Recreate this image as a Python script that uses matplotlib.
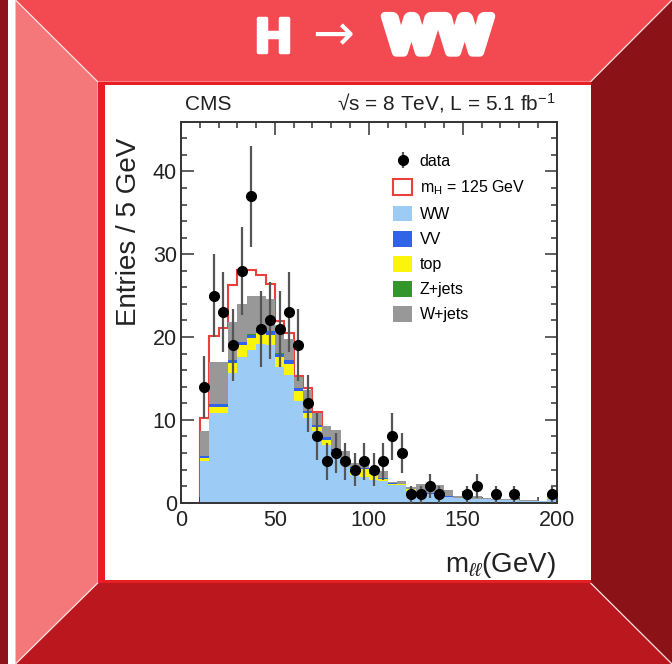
import matplotlib
matplotlib.use("Agg")
import matplotlib.pyplot as plt
import matplotlib.patheffects as pe
import numpy as np
from matplotlib.patches import Polygon, Rectangle, Patch
from matplotlib.lines import Line2D
from matplotlib.ticker import MultipleLocator

plt.rcParams['font.family'] = ['Liberation Sans', 'DejaVu Sans']
plt.rcParams['mathtext.fontset'] = 'custom'
plt.rcParams['mathtext.rm'] = 'Liberation Sans'
plt.rcParams['mathtext.it'] = 'Liberation Sans:italic'

# m_ll binning, 5 GeV bins from 10 to 200
edges = np.arange(10, 205, 5)

# observed events per bin
data = np.array([14, 25, 23, 19, 28, 37, 21, 22, 21, 23, 19, 12, 8, 5, 6, 5, 4, 5, 4, 5,
                 8, 6, 1, 1, 2, 1, 0, 0, 1, 2, 0, 1, 0, 1, 0, 0, 0, 1])

# expected backgrounds (stacked in this order)
ww = np.array([5.0, 10.8, 10.8, 15.6, 17.6, 18.4, 19.2, 19.1, 16.4, 15.4, 12.3, 10.2, 8.6, 7.0,
               5.8, 4.4, 3.4, 3.1, 2.8, 2.6, 2.1, 2.1, 1.4, 1.1, 1.0, 0.9, 0.7, 0.6, 0.5, 0.4,
               0.4, 0.3, 0.3, 0.3, 0.2, 0.2, 0.2, 0.4])
top = np.array([0.4, 0.8, 0.8, 1.3, 1.4, 1.5, 1.3, 1.2, 1.2, 1.4, 1.2, 0.6, 0.5, 0.6, 0.5, 0.6,
                0.8, 1.0, 0.7, 0.3, 0.2, 0.1, 0.2, 0.1, 0.1, 0.1, 0.0, 0.0, 0.1, 0.0, 0.0, 0.0,
                0.0, 0.0, 0.0, 0.0, 0.0, 0.3])
vv = np.array([0.2, 0.3, 0.3, 0.3, 0.4, 0.4, 0.4, 0.4, 0.4, 0.4, 0.4, 0.3, 0.3, 0.3, 0.2, 0.2,
               0.1, 0.1, 0.1, 0.1, 0.1, 0.1, 0.1, 0.1, 0.1, 0.1, 0.1, 0.0, 0.0, 0.0, 0.0, 0.0,
               0.0, 0.0, 0.0, 0.0, 0.0, 0.0])
zjets = np.array([0.0, 0.05, 0.05, 0.05, 0.05, 0.05, 0.05, 0.05, 0.05, 0.0, 0.0, 0.0, 0.0, 0.0,
                  0.0, 0.0, 0.0, 0.0, 0.0, 0.0, 0.0, 0.0, 0.0, 0.0, 0.0, 0.0, 0.0, 0.0, 0.0, 0.0,
                  0.0, 0.0, 0.0, 0.0, 0.0, 0.0, 0.0, 0.0])
wjets = np.array([3.1, 5.0, 5.0, 4.6, 4.5, 4.6, 4.0, 3.8, 3.4, 2.6, 1.3, 2.5, 1.4, 1.3, 2.3, 1.1,
                  0.5, 0.8, 0.6, 0.8, 0.1, 0.3, 0.2, 0.9, 1.1, 1.0, 0.7, 0.2, 0.1, 0.4, 0.2, 0.2,
                  0.1, 0.1, 0.1, 0.1, 0.0, 0.1])
# mH = 125 GeV signal on top of the background
signal = np.array([1.5, 3.2, 4.1, 4.4, 4.2, 3.1, 2.6, 1.8, 0.5, 0.7, 0.1, 0.3, 0.1, 0.0, 0.0,
                   0.0, 0.0, 0.0, 0.0, 0.0, 0.0, 0.0, 0.0, 0.0, 0.0, 0.0, 0.0, 0.0, 0.0, 0.0,
                   0.0, 0.0, 0.0, 0.0, 0.0, 0.0, 0.0, 0.0])

layers = [(ww, '#9ccbf6', 'WW'), (top, '#fbf40b', 'top'), (vv, '#2f64e6', 'VV'),
          (zjets, '#32962a', 'Z+jets'), (wjets, '#989898', 'W+jets')]

W, H = 672, 664
fig = plt.figure(figsize=(W / 100, H / 100), dpi=100)


def P(x, y):
    return (x / W, 1 - y / H)


def poly(pts, color, z=-10):
    fig.add_artist(Polygon([P(*p) for p in pts], closed=True, facecolor=color,
                           edgecolor='none', transform=fig.transFigure, zorder=z))


# slide frame
x0, x1 = 15.5, 672
ix0, iy0, ix1, iy1 = 97.7, 81.7, 590.6, 583
poly([(0, 0), (8, 0), (8, 664), (0, 664)], '#8e1419')
poly([(8, 0), (x0, 0), (x0, 664), (8, 664)], 'white')
poly([(x0, 0), (x1, 0), (ix1, iy0), (ix0, iy0)], '#f24a50')
poly([(x0, 0), (ix0, iy0), (ix0, iy1), (x0, 664)], '#f4777a')
poly([(x1, 0), (x1, 664), (ix1, iy1), (ix1, iy0)], '#8b1216')
poly([(x0, 664), (ix0, iy1), (ix1, iy1), (x1, 664)], '#ba171e')
for (ax_, ay_), (bx_, by_) in [((x0, 0), (ix0, iy0)), ((x1, 0), (ix1, iy0)),
                               ((x0, 664), (ix0, iy1)), ((x1, 664), (ix1, iy1))]:
    fig.add_artist(Line2D([ax_ / W, bx_ / W], [1 - ay_ / H, 1 - by_ / H], color='#fbe3e3',
                          lw=0.9, transform=fig.transFigure, zorder=-9))
# white panel with red edges
poly([(ix0, iy0), (ix1, iy0), (ix1, iy1), (ix0, iy1)], 'white', z=-9)
poly([(ix0, iy0), (ix0 + 7, iy0), (ix0 + 7, iy1), (ix0, iy1)], '#e81e25', z=-8)
poly([(ix0, iy0), (ix1, iy0), (ix1, iy0 + 3), (ix0, iy0 + 3)], '#e81e25', z=-8)
poly([(ix0, iy1 - 3), (ix1, iy1 - 3), (ix1, iy1), (ix0, iy1)], '#e81e25', z=-8)

# title
fig.text(273 / W, 1 - 38 / H, 'H', color='white', fontsize=33, fontweight='heavy',
         family=['Lato', 'DejaVu Sans'], ha='center', va='center',
         path_effects=[pe.Stroke(linewidth=2.5, foreground='white', joinstyle='round'), pe.Normal()])
fig.text(333 / W, 1 - 36 / H, '\u2192', color='white', fontsize=36,
         family=['DejaVu Sans'], ha='center', va='center')
fig.text(438 / W, 1 - 38 / H, 'WW', color='white', fontsize=36, fontweight='heavy',
         family=['Lato', 'DejaVu Sans'], ha='center', va='center',
         path_effects=[pe.Stroke(linewidth=6, foreground='white', joinstyle='round'), pe.Normal()])

# histogram axes
ax = fig.add_axes([181 / W, 1 - 502.7 / H, 375.7 / W, 381 / H])
ax.set_facecolor('none')

centers = edges[:-1] + 2.5
base = np.zeros(len(ww))
for vals, color, label in layers:
    ax.stairs(base + vals, edges, baseline=base, fill=True, color=color, lw=0, zorder=2)
    base = base + vals
total = base

nsig = np.count_nonzero(signal)
red = '#e8413c'
ax.stairs(total[:nsig] + signal[:nsig], edges[:nsig + 1], baseline=0, fill=False,
          color=red, lw=1.5, zorder=1.5)

mask = data > 0
eb = ax.errorbar(centers[mask], data[mask], yerr=np.sqrt(data[mask]), fmt='o', ms=7,
                 color='black', ecolor='#555555', elinewidth=1.6, capsize=0, zorder=5)

ax.set_xlim(0, 200)
ax.set_ylim(0, 46)
ax.xaxis.set_major_locator(MultipleLocator(50))
ax.xaxis.set_minor_locator(MultipleLocator(10))
ax.yaxis.set_major_locator(MultipleLocator(10))
ax.yaxis.set_minor_locator(MultipleLocator(2))
ax.tick_params(which='both', direction='in', top=True, right=True, width=1.1, color='#333333',
               labelsize=15.5, labelcolor='#222222')
ax.tick_params(which='major', length=9)
ax.tick_params(which='minor', length=4.5)
ax.tick_params(axis='x', pad=5)
ax.tick_params(axis='y', pad=3)
for s in ax.spines.values():
    s.set_linewidth(1.4)
    s.set_color('#333333')

handles = [eb, Patch(facecolor='white', edgecolor=red, lw=1.5)]
labels = ['data', 'm$_\\mathrm{H}$ = 125 GeV']
for vals, color, label in [layers[0], layers[2], layers[1], layers[3], layers[4]]:
    handles.append(Patch(facecolor=color, edgecolor='none'))
    labels.append(label)
ax.legend(handles, labels, loc='upper left', bbox_to_anchor=(0.565, 0.918), frameon=False,
          fontsize=11.5, handlelength=1.2, handleheight=1.15, labelspacing=0.55,
          handletextpad=0.45, borderpad=0, borderaxespad=0)

fig.text(185 / W, 1 - 110 / H, 'CMS', fontsize=15, ha='left', va='baseline', color='#222222')
fig.text(556 / W, 1 - 110 / H, '\u221as = 8 TeV, L = 5.1 fb$^{-1}$', fontsize=15, ha='right',
         va='baseline', color='#222222')
fig.text(129 / W, 1 - 232 / H, 'Entries / 5 GeV', fontsize=20, rotation=90, ha='center',
         va='center', color='#222222')
fig.text(556 / W, 1 - 572 / H, 'm$_{\\ell\\ell}$(GeV)', fontsize=20, ha='right', va='baseline',
         color='#222222')

fig.savefig('out.png', dpi=100)
